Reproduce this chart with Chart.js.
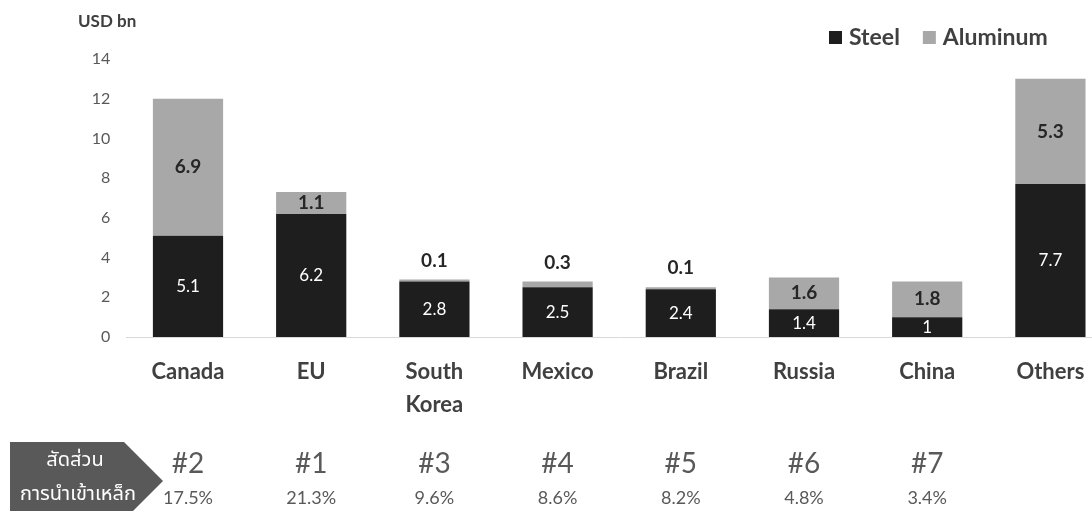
<!DOCTYPE html>
<html>
<head>
<meta charset="utf-8">
<script src="https://cdn.jsdelivr.net/npm/chart.js@4"></script>
<style>
  html, body { margin: 0; padding: 0; background: #fff; overflow: hidden; width: 1092px; height: 511px; }
  #wrap { width: 1112px; height: 511px; }
</style>
</head>
<body>
<div id="wrap"><canvas id="c" width="1112" height="511"></canvas></div>
<script>
// US imports of steel and aluminum by source, USD bn
const categories = ['Canada', 'EU', ['South', 'Korea'], 'Mexico', 'Brazil', 'Russia', 'China', 'Others'];
const steel = [5.1, 6.2, 2.8, 2.5, 2.4, 1.4, 1, 7.7];
const aluminum = [6.9, 1.1, 0.1, 0.3, 0.1, 1.6, 1.8, 5.3];
const importRank = ['#2', '#1', '#3', '#4', '#5', '#6', '#7', ''];
const importShare = ['17.5%', '21.3%', '9.6%', '8.6%', '8.2%', '4.8%', '3.4%', ''];
const seriesNames = ['Steel', 'Aluminum'];
const unitLabel = 'USD bn';
const shareTitle = ['สัดส่วน', 'การนำเข้าเหล็ก'];

const FONT = 'Lato, "Open Sans", sans-serif';
const THAI_FONT = '"Noto Sans Thai", "Noto Sans", "DejaVu Sans", sans-serif';
const STEEL_COLOR = '#1e1e1e';
const ALU_COLOR = '#a8a8a8';

// Value labels: steel in white at bar centre, aluminum in bold dark text,
// lifted above the stack when the segment is too thin to hold it.
const valueLabels = {
  id: 'valueLabels',
  afterDatasetsDraw(chart) {
    const ctx = chart.ctx;
    ctx.save();
    ctx.textAlign = 'center';
    ctx.textBaseline = 'middle';
    chart.data.datasets.forEach((ds, di) => {
      const meta = chart.getDatasetMeta(di);
      meta.data.forEach((bar, i) => {
        const v = ds.data[i];
        const h = Math.abs(bar.base - bar.y);
        let y = (bar.y + bar.base) / 2;
        if (di === 0) {
          ctx.fillStyle = '#ffffff';
          ctx.font = `17px ${FONT}`;
        } else {
          ctx.fillStyle = '#262626';
          ctx.font = `bold 19px ${FONT}`;
          if (h < 15) y = bar.y - 19;
        }
        ctx.fillText(String(v), bar.x, y);
      });
    });
    ctx.restore();
  }
};

// Unit caption, legend, and the import-share row under the axis.
const decorations = {
  id: 'decorations',
  afterDraw(chart) {
    const ctx = chart.ctx;
    const x = chart.scales.x;
    ctx.save();

    // unit caption
    ctx.fillStyle = '#404040';
    ctx.font = `bold 17px ${FONT}`;
    ctx.textAlign = 'left';
    ctx.textBaseline = 'middle';
    ctx.fillText(unitLabel, 78, 22);

    // legend
    ctx.font = `bold 23px ${FONT}`;
    let lx = 829;
    const colors = [STEEL_COLOR, ALU_COLOR];
    seriesNames.forEach((name, i) => {
      ctx.fillStyle = colors[i];
      ctx.fillRect(lx, 31, 13, 13);
      ctx.fillStyle = '#404040';
      ctx.fillText(name, lx + 20, 38);
      lx += 20 + ctx.measureText(name).width + 23;
    });

    // arrow-shaped caption box
    ctx.fillStyle = '#595959';
    ctx.beginPath();
    ctx.moveTo(10, 442);
    ctx.lineTo(124, 442);
    ctx.lineTo(163, 481);
    ctx.lineTo(124, 520);
    ctx.lineTo(10, 520);
    ctx.closePath();
    ctx.fill();
    ctx.fillStyle = '#ffffff';
    ctx.textAlign = 'center';
    ctx.font = `20px ${THAI_FONT}`;
    ctx.fillText(shareTitle[0], 75, 462);
    ctx.fillText(shareTitle[1], 78, 496);

    // rank and share for each source
    ctx.fillStyle = '#595959';
    importRank.forEach((r, i) => {
      const cx = x.getPixelForValue(i);
      ctx.font = `28px ${FONT}`;
      ctx.fillText(r, cx, 464);
      ctx.font = `18px ${FONT}`;
      ctx.fillText(importShare[i], cx, 498);
    });
    ctx.restore();
  }
};

new Chart(document.getElementById('c'), {
  type: 'bar',
  data: {
    labels: categories,
    datasets: [
      { label: seriesNames[0], data: steel, backgroundColor: STEEL_COLOR },
      { label: seriesNames[1], data: aluminum, backgroundColor: ALU_COLOR }
    ]
  },
  options: {
    responsive: false,
    animation: false,
    devicePixelRatio: 1,
    layout: { padding: { top: 59, left: 0, right: 0, bottom: 0 } },
    datasets: { bar: { barPercentage: 0.57, categoryPercentage: 1 } },
    plugins: { legend: { display: false }, tooltip: { enabled: false } },
    scales: {
      x: {
        stacked: true,
        grid: { display: false },
        border: { display: true, color: '#d9d9d9', width: 1 },
        ticks: {
          color: '#404040',
          font: { family: FONT, size: 22, weight: 'bold', lineHeight: 1.5 },
          padding: 10,
          maxRotation: 0,
          autoSkip: false
        },
        afterFit(s) { s.height = 174; }
      },
      y: {
        stacked: true,
        min: 0,
        max: 14,
        grid: { display: false, drawTicks: false },
        border: { display: false },
        ticks: {
          stepSize: 2,
          color: '#595959',
          font: { family: FONT, size: 16 },
          padding: 16
        },
        afterFit(s) { s.width = 126.4; }
      }
    }
  },
  plugins: [valueLabels, decorations]
});
</script>
</body>
</html>
